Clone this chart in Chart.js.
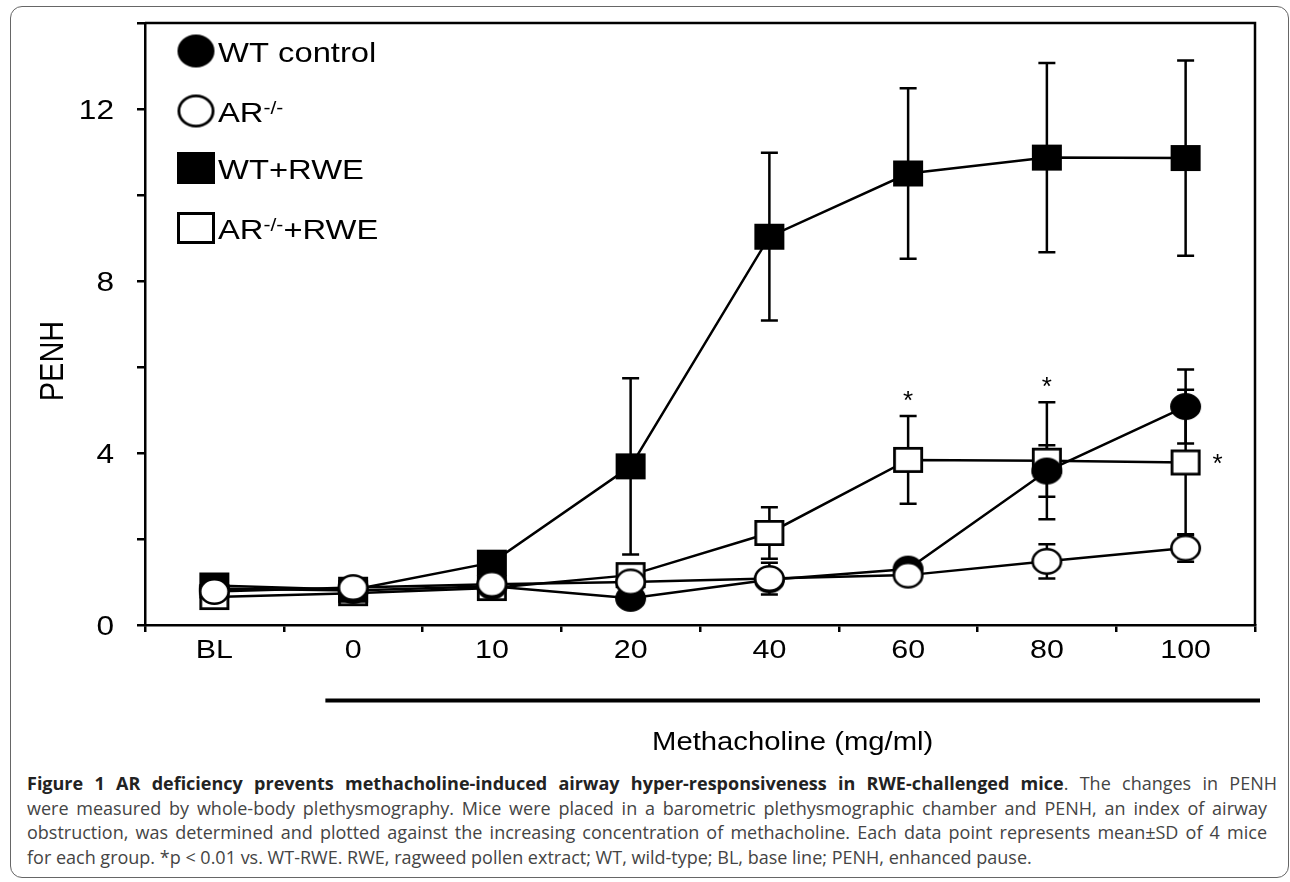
<!DOCTYPE html>
<html><head><meta charset="utf-8">
<script src="https://cdn.jsdelivr.net/npm/chart.js@4.4.1/dist/chart.umd.min.js"></script>
<style>
html,body{margin:0;padding:0;background:#fff;}
#wrap{position:relative;width:1290px;height:882px;overflow:hidden;background:#fff;}
#frame{position:absolute;left:10px;top:6px;width:1279px;height:872px;border:1.5px solid #666;border-radius:12px;box-sizing:border-box;}
#c{position:absolute;left:0;top:0;}
#cap{position:absolute;left:27px;top:771px;font-family:'Open Sans';font-size:18px;line-height:24.5px;color:#444;white-space:nowrap;}
#cap div{text-align:justify;text-align-last:justify;}
#cap div.last{text-align:left;text-align-last:left;}
#cap b{color:#222;}
</style></head>
<body>
<div id="wrap">
<div id="frame"></div>
<canvas id="c" width="1290" height="760" style="width:1290px;height:760px"></canvas>
<div id="cap">
<div style="width:1250px"><b>Figure 1 AR deficiency prevents methacholine-induced airway hyper-responsiveness in RWE-challenged mice</b>. The changes in PENH</div>
<div style="width:1240px">were measured by whole-body plethysmography. Mice were placed in a barometric plethysmographic chamber and PENH, an index of airway</div>
<div style="width:1240px">obstruction, was determined and plotted against the increasing concentration of methacholine. Each data point represents mean±SD of 4 mice</div>
<div class="last">for each group. *p &lt; 0.01 vs. WT-RWE. RWE, ragweed pollen extract; WT, wild-type; BL, base line; PENH, enhanced pause.</div>
</div>
</div>
<script>
const categories = ['BL','0','10','20','40','60','80','100'];
const seriesNames = ['WT control','AR-/-','WT+RWE','AR-/-+RWE'];
const wtControl   = [0.85,0.80,0.90,0.62,1.05,1.30,3.58,5.08];
const wtControlSD = [0.10,0.10,0.10,0.10,0.10,0.15,0.60,0.86];
const arKO        = [0.78,0.87,0.95,1.00,1.08,1.16,1.48,1.79];
const arKOSD      = [0.10,0.10,0.10,0.10,0.37,0.10,0.40,0.32];
const wtRWE       = [0.92,0.82,1.45,3.69,9.03,10.50,10.87,10.86];
const wtRWESD     = [0.10,0.10,0.15,2.05,1.95,1.98,2.20,2.27];
const arKORWE     = [0.65,0.74,0.86,1.16,2.14,3.84,3.82,3.78];
const arKORWESD   = [0.10,0.10,0.10,0.20,0.60,1.02,1.36,1.69];
const yTickLabels = [0,4,8,12];
const yAxisTitle = 'PENH';
const xAxisTitle = 'Methacholine (mg/ml)';
const starSeries = [3,3,3];
const starIndex  = [5,6,7];

const means = [wtControl, arKO, wtRWE, arKORWE];
const sds = [wtControlSD, arKOSD, wtRWESD, arKORWESD];
const shapes = [['circle',true],['circle',false],['rect',true],['rect',false]];
const drawOrder = [1,0,2,3];
const FONT = '"Liberation Sans", Arial, sans-serif';
const SX = 1.17; // horizontal stretch of the figure's lettering

function marker(shape, filled, w, h, lw){
  const pad = 2;
  const c = document.createElement('canvas');
  c.width = w + pad*2; c.height = h + pad*2;
  const g = c.getContext('2d');
  g.fillStyle = filled ? '#000' : '#fff';
  g.strokeStyle = '#000'; g.lineWidth = lw;
  const cx = c.width/2, cy = c.height/2;
  g.beginPath();
  if (shape === 'circle') g.ellipse(cx, cy, (w-lw)/2, (h-lw)/2, 0, 0, Math.PI*2);
  else g.rect(cx-(w-lw)/2, cy-(h-lw)/2, w-lw, h-lw);
  g.fill(); g.stroke();
  return c;
}
const plotMarkers = shapes.map(s => s[0]==='circle' ? marker('circle', s[1], 31, 27, 2.6) : marker('rect', s[1], 30, 26, 2.8));
const legendMarkers = shapes.map(s => s[0]==='circle' ? marker('circle', s[1], 37, 33, 2.8) : marker('rect', s[1], 38, 32, 3));

function sText(ctx, text, x, baseline, size, align){
  ctx.save();
  ctx.translate(x, baseline);
  ctx.scale(SX, 1);
  ctx.font = size + 'px ' + FONT;
  ctx.textAlign = align; ctx.textBaseline = 'alphabetic';
  ctx.fillText(text, 0, 0);
  ctx.restore();
}

const errorBars = {
  id: 'errorBars',
  beforeDatasetsDraw(chart){
    const ctx = chart.ctx, ys = chart.scales.y;
    ctx.save();
    ctx.strokeStyle = '#000'; ctx.lineWidth = 2.5; ctx.lineCap = 'butt';
    chart.data.datasets.forEach((ds, i) => {
      const meta = chart.getDatasetMeta(i);
      sds[i].forEach((sd, j) => {
        const x = meta.data[j].x;
        const m = means[i][j];
        const yt = ys.getPixelForValue(m + sd), yb = ys.getPixelForValue(m - sd);
        ctx.beginPath();
        ctx.moveTo(x, yt); ctx.lineTo(x, yb);
        ctx.moveTo(x-8.5, yt); ctx.lineTo(x+8.5, yt);
        ctx.moveTo(x-8.5, yb); ctx.lineTo(x+8.5, yb);
        ctx.stroke();
      });
    });
    ctx.restore();
  }
};

function drawLegendLabel(ctx, text, x, baseline){
  const parts = text.split(/(-\/-)/);
  ctx.save();
  ctx.translate(x, baseline);
  ctx.scale(SX, 1);
  ctx.textAlign = 'left'; ctx.textBaseline = 'alphabetic';
  let cx = 0;
  parts.forEach(p => {
    if (!p) return;
    if (p === '-/-') {
      ctx.font = '18px ' + FONT;
      ctx.fillText(p, cx, -8);
    } else {
      ctx.font = '28px ' + FONT;
      ctx.fillText(p, cx, 0);
    }
    cx += ctx.measureText(p).width;
  });
  ctx.restore();
}

const decorations = {
  id: 'decorations',
  afterDraw(chart){
    const ctx = chart.ctx, a = chart.chartArea, xs = chart.scales.x, ys = chart.scales.y;
    ctx.save();
    ctx.fillStyle = '#000';
    // frame top & right
    ctx.strokeStyle = '#000'; ctx.lineWidth = 2.5;
    ctx.beginPath();
    ctx.moveTo(a.left, a.top); ctx.lineTo(a.right, a.top); ctx.lineTo(a.right, a.bottom);
    ctx.stroke();
    // tick labels
    categories.forEach((c, i) => sText(ctx, c, xs.getPixelForValue(i), a.bottom + 33, 26, 'center'));
    yTickLabels.forEach(v => sText(ctx, String(v), a.left - 31, ys.getPixelForValue(v) + 9.7, 27, 'right'));
    // y title
    ctx.save();
    ctx.translate(54, 361); ctx.scale(SX, 1); ctx.rotate(-Math.PI/2);
    ctx.font = '29px ' + FONT; ctx.textAlign = 'center'; ctx.textBaseline = 'middle';
    ctx.fillText(yAxisTitle, 0, 0);
    ctx.restore();
    // methacholine bar & label
    const catW = (a.right - a.left) / categories.length;
    const barL = xs.getPixelForValue(1) - 0.2*catW, barR = a.right + 5;
    ctx.lineWidth = 4;
    ctx.beginPath(); ctx.moveTo(barL, 700.5); ctx.lineTo(barR, 700.5); ctx.stroke();
    sText(ctx, xAxisTitle, (barL + barR)/2, 750, 25, 'center');
    // legend
    const rowY = [51, 111, 168, 228];
    seriesNames.forEach((name, i) => {
      const mk = legendMarkers[i];
      const mx = a.left + 51, my = rowY[i];
      ctx.drawImage(mk, mx - mk.width/2, my - mk.height/2);
      drawLegendLabel(ctx, name, a.left + 73, my + 10.5);
    });
    // significance stars
    ctx.font = '26px ' + FONT; ctx.textAlign = 'center'; ctx.textBaseline = 'alphabetic';
    starSeries.forEach((s, k) => {
      const j = starIndex[k];
      const x = chart.getDatasetMeta(s).data[j].x;
      if (j === categories.length - 1) {
        ctx.fillText('*', x + 32, ys.getPixelForValue(means[s][j]) + 10);
      } else {
        ctx.fillText('*', x, ys.getPixelForValue(means[s][j] + sds[s][j]) - 7);
      }
    });
    ctx.restore();
  }
};

new Chart(document.getElementById('c'), {
  type: 'line',
  data: {
    labels: categories,
    datasets: seriesNames.map((name, i) => ({
      label: name,
      data: means[i],
      order: drawOrder[i],
      borderColor: '#000',
      borderWidth: 2.5,
      pointStyle: plotMarkers[i],
      pointRadius: 14,
      pointHoverRadius: 14,
      tension: 0,
      fill: false
    }))
  },
  options: {
    responsive: false,
    animation: false,
    devicePixelRatio: 1,
    layout: { padding: { top: 23, right: 35, left: 0, bottom: 0 } },
    plugins: { legend: { display: false }, tooltip: { enabled: false } },
    scales: {
      x: {
        type: 'category', offset: true,
        grid: { offset: true, drawOnChartArea: false, drawTicks: true, tickLength: 7, color: '#000', tickColor: '#000', lineWidth: 2.5, tickWidth: 2.5 },
        border: { color: '#000', width: 2.5 },
        ticks: { display: false, autoSkip: false },
        afterFit(s){ s.height = 135; s.paddingLeft = 0; s.paddingRight = 0; }
      },
      y: {
        min: 0, max: 14,
        grid: { drawOnChartArea: false, drawTicks: true, tickLength: 8, color: '#000', tickColor: '#000', lineWidth: 2.5, tickWidth: 2.5 },
        border: { color: '#000', width: 2.5 },
        ticks: { display: false, stepSize: 2 },
        afterFit(s){ s.width = 145; s.paddingTop = 0; s.paddingBottom = 0; }
      }
    }
  },
  plugins: [errorBars, decorations]
});
</script>
</body></html>
